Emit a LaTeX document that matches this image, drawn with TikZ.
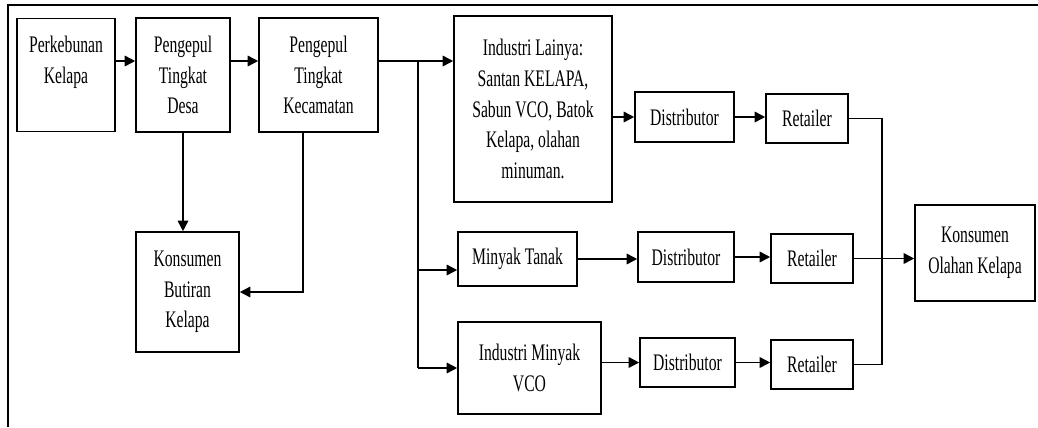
\documentclass[tikz,border=0pt]{standalone}
\usepackage{fontspec}
\setmainfont[FakeStretch=0.66]{Liberation Serif}
\usetikzlibrary{arrows.meta}

\begin{document}
\begin{tikzpicture}[x=0.02cm,y=-0.02cm,
block/.style={
% The shape:
rectangle,
draw=black,
line width=0.9pt,
align=center,
inner sep=1pt,
font=\fontsize{13.5}{17.5}\selectfont
},
arr/.style={-{Triangle[length=6pt,width=6pt]},line width=0.9pt},
line/.style={line width=0.9pt},
frame/.style={line width=1.6pt}
]
\useasboundingbox (0,0) rectangle (1038,427);
\draw[frame] (1038,5) -- (8,5) -- (8,427);
% First row:
\node (kebun) [block,minimum width=98*0.02cm,minimum height=113*0.02cm] at (66,75) {Perkebunan\\Kelapa\\\mbox{}};
\node (desa) [block,minimum width=94*0.02cm,minimum height=114*0.02cm] at (183,75) {Pengepul\\Tingkat\\Desa};
\node (kecamatan) [block,minimum width=119*0.02cm,minimum height=114*0.02cm] at (318.5,75) {Pengepul\\Tingkat\\Kecamatan};
\node (butiran) [block,minimum width=103*0.02cm,minimum height=120*0.02cm] at (187.5,292) {Konsumen\\Butiran\\Kelapa};
% Industry branches:
\node (lainya) [block,minimum width=158*0.02cm,minimum height=186*0.02cm] at (533,109) {Industri Lainya:\\Santan KELAPA,\\Sabun VCO, Batok\\Kelapa, olahan\\minuman.};
\node (tanak) [block,minimum width=119*0.02cm,minimum height=54*0.02cm] at (517.5,259) {Minyak Tanak};
\node (vco) [block,minimum width=143*0.02cm,minimum height=92*0.02cm] at (529.5,368) {Industri Minyak\\VCO};
% Distributors and retailers:
\node (dist1) [block,minimum width=99*0.02cm,minimum height=50*0.02cm] at (684.5,117) {Distributor};
\node (dist2) [block,minimum width=96*0.02cm,minimum height=50*0.02cm] at (686,257) {Distributor};
\node (dist3) [block,minimum width=95*0.02cm,minimum height=49*0.02cm] at (687.5,362.5) {Distributor};
\node (ret1) [block,minimum width=82*0.02cm,minimum height=49*0.02cm] at (807,118.5) {Retailer};
\node (ret2) [block,minimum width=82*0.02cm,minimum height=49*0.02cm] at (812,258.5) {Retailer};
\node (ret3) [block,minimum width=82*0.02cm,minimum height=49*0.02cm] at (812,364.5) {Retailer};
\node (olahan) [block,minimum width=120*0.02cm,minimum height=96*0.02cm] at (975,253) {Konsumen\\Olahan Kelapa};
\coordinate (top) at (0,61);
\coordinate (split) at (418,61);
\coordinate (join) at (882,258.5);
\draw[arr] (kebun.east |- top) -- (desa.west |- top);
\draw[arr] (desa.east |- top) -- (kecamatan.west |- top);
\draw[arr] (kecamatan.east |- top) -- (lainya.west |- top);
\draw[line] (split) -- (split |- vco);
\draw[arr] (split |- 0,270) -- (tanak.west |- 0,270);
\draw[arr] (split |- vco) -- (vco.west);
\draw[arr] (desa.south) -- (desa.south |- butiran.north);
\draw[arr] ([xshift=-0.31cm]kecamatan.south) |- (butiran.east);
\draw[arr] (lainya.east |- dist1) -- (dist1.west);
\draw[arr] (tanak.east) -- (dist2.west |- tanak.east);
\draw[arr] (vco.east |- dist3) -- (dist3.west);
\draw[arr] (dist1.east) -- (ret1.west |- dist1.east);
\draw[arr] (dist2.east) -- (ret2.west |- dist2.east);
\draw[arr] (dist3.east) -- (ret3.west |- dist3.east);
\draw[line] (ret1.east) -| (join);
\draw[line] (ret3.east) -| (join);
\draw[arr] (ret2.east) -- (olahan.west |- ret2.east);
\end{tikzpicture}
\end{document}
